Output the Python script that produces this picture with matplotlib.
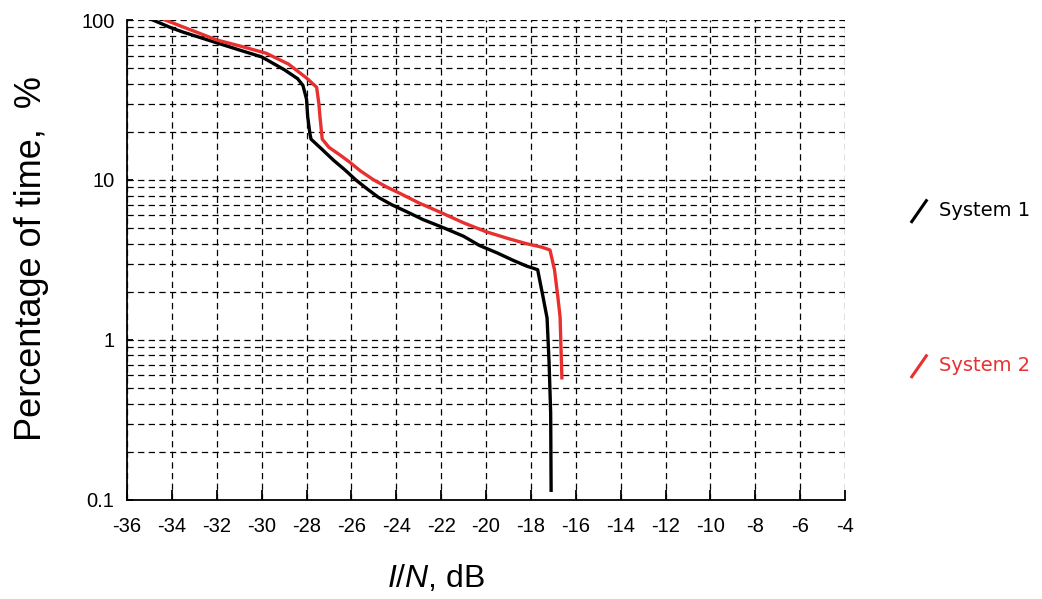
import matplotlib.pyplot as plt
from matplotlib.lines import Line2D
from matplotlib.ticker import FixedLocator, FixedFormatter, LogLocator, NullFormatter

plt.rcParams['mathtext.fontset'] = 'custom'
plt.rcParams['mathtext.it'] = 'Liberation Sans:italic'
plt.rcParams['mathtext.rm'] = 'Liberation Sans'

# System 1 (black)
s1_db = [-34.85, -34.0, -33.5, -32.0, -31.0, -30.0, -29.0, -28.4, -28.16, -28.0,
         -27.95, -27.85, -27.8, -27.3, -26.8, -26.3, -25.8, -25.3, -24.8, -24.2,
         -23.5, -22.8, -22.0, -21.0, -20.3, -19.5, -18.8, -18.2, -17.7, -17.46,
         -17.28, -17.19, -17.12, -17.1]
s1_pct = [100, 89, 84, 72, 65, 58.8, 49, 43, 39, 32,
          25, 19.5, 18, 15.5, 13.3, 11.6, 10.0, 8.8, 7.8, 7.0,
          6.3, 5.65, 5.1, 4.45, 3.9, 3.5, 3.15, 2.9, 2.75, 1.86,
          1.37, 0.72, 0.35, 0.115]

# System 2 (red)
s2_db = [-34.3, -33.0, -32.0, -31.0, -29.8, -28.8, -28.0, -27.55, -27.45, -27.4,
         -27.3, -27.0, -26.5, -26.1, -25.6, -25.0, -24.4, -23.8, -23.0, -22.0,
         -21.0, -20.0, -19.0, -18.2, -17.5, -17.15, -16.95, -16.8, -16.7, -16.62]
s2_pct = [100, 85, 75, 69, 62, 53, 43.4, 38, 30, 24.7,
          18, 16, 14.3, 13.0, 11.4, 10.0, 9.0, 8.2, 7.2, 6.25,
          5.4, 4.75, 4.3, 4.0, 3.8, 3.65, 2.75, 1.86, 1.39, 0.58]

x_ticks = list(range(-36, -3, 2))
x_labels = [str(v) for v in x_ticks]
y_ticks = [0.1, 1, 10, 100]
y_labels = ['0.1', '1', '10', '100']
series_names = ['System 1', 'System 2']
red = '#e8302f'

fig = plt.figure(figsize=(10.42, 5.99), dpi=100)
ax = fig.add_axes([0.1219, 0.1653, 0.6891, 0.8013])

ax.plot(s1_db, s1_pct, color='black', lw=2.4, zorder=3)
ax.plot(s2_db, s2_pct, color=red, lw=2.4, zorder=3)

ax.set_yscale('log')
ax.set_xlim(-36, -4)
ax.set_ylim(0.1, 100)

ax.xaxis.set_major_locator(FixedLocator(x_ticks))
ax.xaxis.set_major_formatter(FixedFormatter(x_labels))
ax.yaxis.set_major_locator(FixedLocator(y_ticks))
ax.yaxis.set_major_formatter(FixedFormatter(y_labels))
ax.yaxis.set_minor_locator(LogLocator(base=10, subs=range(2, 10)))
ax.yaxis.set_minor_formatter(NullFormatter())

dash = (0, (5, 3.5))
ax.grid(True, which='major', color='black', lw=0.9, linestyle=dash)
ax.grid(True, which='minor', axis='y', color='black', lw=0.9, linestyle=dash)

for side in ['top', 'right']:
    ax.spines[side].set_visible(False)
ax.spines['left'].set_linewidth(1.3)
ax.spines['bottom'].set_linewidth(1.3)

ax.tick_params(axis='x', direction='in', length=7, width=1.3, labelsize=14.5,
               pad=12)
ax.tick_params(axis='y', which='major', direction='in', length=4, width=1.3,
               labelsize=14.5, pad=9)
ax.tick_params(axis='y', which='minor', length=0)
for lab in ax.get_xticklabels() + ax.get_yticklabels():
    lab.set_fontfamily('Liberation Sans')

ax.set_ylabel('Percentage of time,  %', fontsize=26, family='Liberation Sans')
ax.yaxis.set_label_coords(-0.133, 0.504)
ax.set_xlabel('$\\mathit{I/N}$, dB', fontsize=23, family='Liberation Sans')
ax.xaxis.set_label_coords(0.43, -0.163)
ax.xaxis.label.set_va('center')
ax.yaxis.label.set_va('center')

# legend drawn at the right
for name, col, y0 in [(series_names[0], 'black', 0.630), (series_names[1], red, 0.371)]:
    fig.add_artist(Line2D([0.875, 0.889], [y0, y0 + 0.035], color=col, lw=2.2,
                          transform=fig.transFigure))
    fig.text(0.901, y0 + 0.018, name, color=col, fontsize=14,
             family='DejaVu Sans', va='center', ha='left')

fig.savefig('out.png', dpi=100)
plt.close()
